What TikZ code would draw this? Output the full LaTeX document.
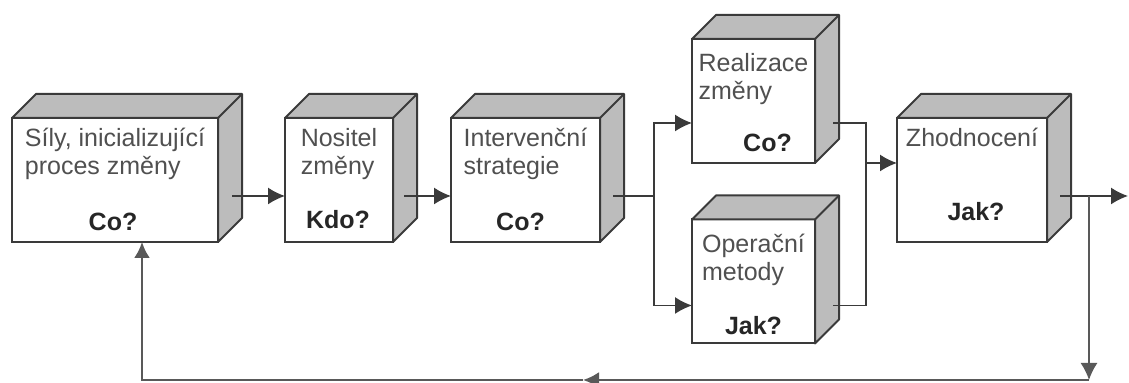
\documentclass[tikz,border=0pt]{standalone}
\usepackage{fontspec}
\setmainfont{Liberation Sans}
\usetikzlibrary{arrows.meta,calc,positioning}
\definecolor{linec}{HTML}{3A3A3A}
\definecolor{facec}{HTML}{BCBCBC}
\definecolor{textc}{HTML}{505050}

\tikzset{
  cube/.style={draw=linec, line width=1pt, fill=white, minimum height=62pt, inner sep=0pt, outer sep=0pt},
  face/.style={draw=linec, line width=1pt, fill=facec, line join=round},
  title/.style={anchor=north, align=left, text=textc, font=\fontsize{12.5}{14}\selectfont, inner sep=0pt},
  question/.style={text=black!85, font=\fontsize{12.5}{14}\selectfont\bfseries, inner sep=0pt},
  flow/.style={draw=linec, line width=0.8pt, -{Latex[length=8.5pt,width=8.5pt]}},
  link/.style={draw=linec, line width=0.8pt},
  back/.style={draw=black!65, line width=1.2pt, -{Latex[length=8pt,width=8pt]}}
}

\begin{document}
\begin{tikzpicture}[x=0.5pt,y=0.5pt]
\useasboundingbox (0,0) rectangle (1129,383);

% front faces
\node[cube, minimum width=103pt]  (b1) at (115,203)    {};
\node[cube, minimum width=54pt]   (b2) at (339,203)    {};
\node[cube, minimum width=74.5pt] (b3) at (525.5,203)  {};
\node[cube, minimum width=61.5pt] (b4) at (753.5,282)  {};
\node[cube, minimum width=61.5pt] (b5) at (753.5,101.5) {};
\node[cube, minimum width=75pt]   (b6) at (972,203)    {};

% top and side of each box
\foreach \b in {b1,b2,b3,b4,b5,b6}{
  \draw[face] (\b.north west) -- ++(24,24) -- ([shift={(24,24)}]\b.north east)
     -- ([shift={(24,24)}]\b.south east) -- (\b.south east) -- (\b.north east) -- cycle;
  \draw[face] (\b.north east) -- ++(24,24);
}

% texts
\node[title] (t1) at ($(b1.north)+(0,-10)$) {Síly, inicializující\\proces změny};
\node[title] (t2) at ($(b2.north)+(0,-10)$) {Nositel\\změny};
\node[title] (t3) at ($(b3.north)+(0,-10)$) {Intervenční\\strategie};
\node[title] (t4) at ($(b4.north)+(0,-14)$) {Realizace\\změny};
\node[title] (t5) at ($(b5.north)+(0,-14)$) {Operační\\metody};
\node[title] (t6) at ($(b6.north)+(0,-10)$) {Zhodnocení};

\node[question] (q1) at ($(b1.south)+(-2,20)$) {Co?};
\node[question] (q2) at ($(b2.south)+(-1,22)$) {Kdo?};
\node[question] (q3) at ($(b3.south)+(-5,20)$) {Co?};
\node[question] (q4) at ($(b4.south)+(14,20)$) {Co?};
\node[question] (q5) at ($(b5.south)+(0,18)$)  {Jak?};
\node[question] (q6) at ($(b6.south)+(4,30)$)  {Jak?};

% connectors
\coordinate (s1)  at ($(b3.south east)+(54,46)$);
\coordinate (s2)  at ($(b4.south east)+(51,0)$ |- s1);
\coordinate (s3)  at (1089,187);
\coordinate (out) at (1128,187);
\coordinate (fb)  at (1089,3);
\coordinate (mid) at (583,3);

\draw[flow] ($(b1.south east)+(14,46)$) coordinate (o1) -- (o1 -| b2.west);
\draw[flow] ($(b2.south east)+(11,46)$) coordinate (o2) -- (o2 -| b3.west);
\draw[link] ($(b3.south east)+(13,46)$) -- (s1);
\draw[flow] (s1) |- ($(b4.south west)+(0,40)$);
\draw[flow] (s1) |- ($(b5.south west)+(0,38)$);
\draw[link] ($(b4.south east)+(18,40)$) -| (s2) |- ($(b5.south east)+(18,38)$);
\draw[flow] (s2) -- (s2 -| b6.west);
\draw[flow] ($(b6.south east)+(13,46)$) -- (out);
\draw[flow, draw=black!65] (s3) -- (fb);
\draw[back] (fb) -- (mid);
\draw[back] (mid) -| ($(b1.south)+(27,0)$);
\end{tikzpicture}
\end{document}
